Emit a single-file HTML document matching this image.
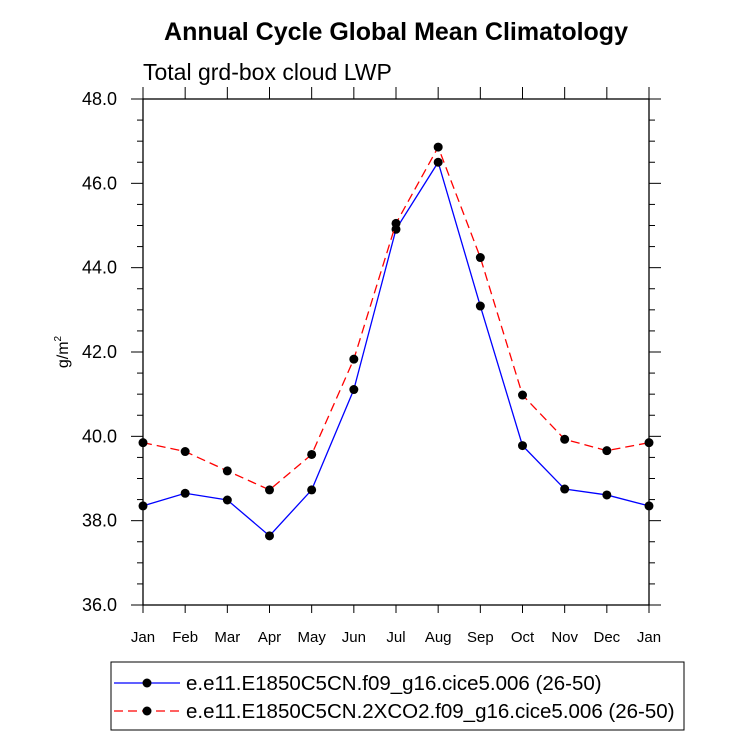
<!DOCTYPE html>
<html><head><meta charset="utf-8"><style>
body{margin:0;background:#fff;}
svg text{font-family:"Liberation Sans",Arial,sans-serif;}
</style></head><body>
<svg id="chart" width="733" height="737" viewBox="0 0 733 737">
<rect width="733" height="737" fill="#fff"/>
<text x="396" y="40" text-anchor="middle" font-size="25" font-weight="bold">Annual Cycle Global Mean Climatology</text>
<text x="143" y="80" font-size="23">Total grd-box cloud LWP</text>
<text transform="translate(68,352) rotate(-90)" text-anchor="middle" font-size="16">g/m<tspan dy="-7" font-size="10">2</tspan></text>
<g id="axes"></g>
<g id="series"></g>
<rect x="111" y="662" width="573" height="68" fill="none" stroke="#000" stroke-width="1"/>
<g>
<line x1="114" y1="683" x2="180" y2="683" stroke="#0000ff" stroke-width="1.3"/>
<circle cx="147" cy="683" r="4.5" fill="#000"/>
<text x="186" y="690" font-size="20.5">e.e11.E1850C5CN.f09_g16.cice5.006 (26-50)</text>
</g>
<g>
<line x1="114" y1="711" x2="180" y2="711" stroke="#ff0000" stroke-width="1.3" stroke-dasharray="9,5"/>
<circle cx="147" cy="711" r="4.5" fill="#000"/>
<text x="186" y="718" font-size="20.5">e.e11.E1850C5CN.2XCO2.f09_g16.cice5.006 (26-50)</text>
</g>
</svg>
<script>
const months=["Jan","Feb","Mar","Apr","May","Jun","Jul","Aug","Sep","Oct","Nov","Dec","Jan"];
const controlValues=[38.35,38.65,38.49,37.64,38.73,41.11,44.91,46.50,43.09,39.78,38.75,38.61,38.35];
const co2Values=[39.85,39.64,39.18,38.73,39.57,41.83,45.05,46.86,44.24,40.98,39.93,39.66,39.85];
const yTicks=["36.0","38.0","40.0","42.0","44.0","46.0","48.0"];
const X0=143,X1=649,Y0=605,Y1=99,ymin=36,ymax=48;
const xs=i=>X0+(X1-X0)*i/(months.length-1);
const ys=v=>Y0-(Y0-Y1)*(v-ymin)/(ymax-ymin);
const NS="http://www.w3.org/2000/svg";
function mk(t,a,p){const e=document.createElementNS(NS,t);for(const k in a)e.setAttribute(k,a[k]);p.appendChild(e);return e;}
const ax=document.getElementById('axes');
const frame=mk('rect',{x:X0,y:Y1,width:X1-X0,height:Y0-Y1,fill:'none',stroke:'#000','stroke-width':1.3},ax);


months.forEach((m,i)=>{const x=xs(i);
mk('line',{x1:x,y1:Y0,x2:x,y2:Y0+8,stroke:'#000'},ax);
mk('line',{x1:x,y1:Y1,x2:x,y2:Y1-12,stroke:'#000'},ax);
const t=mk('text',{x:x,y:Y0+37,'text-anchor':'middle','font-size':15},ax);t.textContent=m;

});
for(let v=ymin;v<=ymax+1e-9;v+=0.5){const y=ys(v);const maj=Math.abs(v%2)<1e-9;const L=maj?12:6;
mk('line',{x1:X0-L,y1:y,x2:X0,y2:y,stroke:'#000'},ax);
mk('line',{x1:X1,y1:y,x2:X1+L,y2:y,stroke:'#000'},ax);}
yTicks.forEach(s=>{const y=ys(parseFloat(s));
const t=mk('text',{x:X0-26,y:y+6,'text-anchor':'end','font-size':18},ax);t.textContent=s;

});
const sg=document.getElementById('series');
function draw(vals,color,dash,name){
const g=mk('g',{},sg);


mk('polyline',{points:vals.map((v,i)=>xs(i)+','+ys(v)).join(' '),fill:'none',stroke:color,'stroke-width':1.3,'stroke-dasharray':dash},g);
vals.forEach((v,i)=>{const c=mk('circle',{cx:xs(i),cy:ys(v),r:4.5,fill:'#000'},g);

});}
draw(controlValues,'#0000ff','none','series-control');
draw(co2Values,'#ff0000','9,5','series-2xco2');
</script>
</body></html>
